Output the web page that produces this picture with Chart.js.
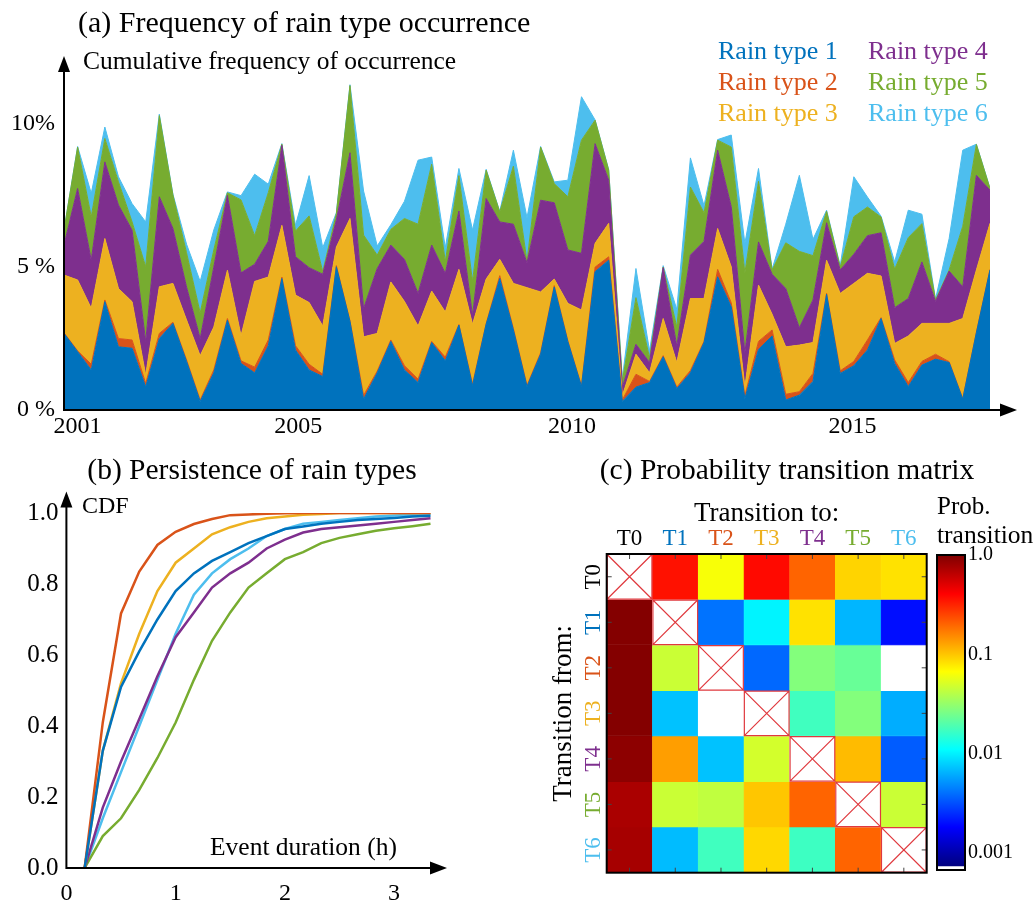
<!DOCTYPE html>
<html>
<head>
<meta charset="utf-8">
<title>Rain types</title>
<script src="https://cdn.jsdelivr.net/npm/chart.js@4.4.1/dist/chart.umd.min.js"></script>
<style>
  html, body { margin:0; padding:0; background:#fff; }
  #fig { position:relative; width:1036px; height:902px; overflow:hidden; background:#fff;
         font-family:"Liberation Serif","Times New Roman",serif; color:#000; }
  #fig canvas { position:absolute; }
  .txt { position:absolute; white-space:nowrap; line-height:1; transform:translateY(-50%); z-index:2; }
  .ctr { transform:translate(-50%,-50%); }
</style>
</head>
<body>
<div id="fig">
  <canvas id="freqChart" width="1036" height="460" style="left:0;top:0"></canvas>
  <canvas id="cdfChart" width="460" height="462" style="left:0;top:440px"></canvas>
  <canvas id="matrixChart" width="496" height="462" style="left:540px;top:440px"></canvas>
  <canvas id="barChart" width="106" height="345" style="left:930px;top:540px"></canvas>

  <div class="txt" style="left:78px;top:22px;font-size:30px">(a) Frequency of rain type occurrence</div>
  <div class="txt" style="left:83px;top:61px;font-size:25.5px">Cumulative frequency of occurrence</div>
  <div id="legendBox"></div>

  <div class="txt ctr" style="left:252px;top:470px;font-size:29.5px">(b) Persistence of rain types</div>
  <div class="txt" style="left:82px;top:505px;font-size:24px">CDF</div>
  <div class="txt" style="left:210px;top:847px;font-size:25.5px">Event duration (h)</div>

  <div class="txt ctr" style="left:787px;top:470px;font-size:29.5px">(c) Probability transition matrix</div>
  <div class="txt" style="left:937px;top:505px;font-size:25px">Prob.</div>
  <div class="txt" style="left:937px;top:535px;font-size:25.5px">transition</div>
</div>

<script>
// ---------- shared ----------
const serif = "'Liberation Serif', 'Times New Roman', serif";
const typeNames  = ['Rain type 1', 'Rain type 2', 'Rain type 3', 'Rain type 4', 'Rain type 5', 'Rain type 6'];
const typeColors = ['#0072BD', '#D95319', '#EDB120', '#7E2F8E', '#77AC30', '#4DBEEE'];

// ---------- (a) seasonal frequency of each rain type, % ----------
const rainType1 = [2.68,2.04,1.40,3.79,2.21,2.16,0.81,2.50,3.03,1.70, 0.30,1.30,3.14,1.63,1.30,2.25,4.60,2.10,1.40,1.17,
                   5.01,3.10,0.38,1.30,2.40,1.40,0.96,2.36,1.72,2.97, 0.85,3.00,4.60,2.80,0.82,1.95,4.30,2.39,0.82,4.84,
                   5.24,0.30,0.80,0.96,1.86,0.75,1.30,2.36,4.66,3.61, 0.40,2.12,2.59,0.35,0.52,1.00,4.05,1.28,1.55,2.10,
                   3.20,1.63,0.82,1.57,1.78,1.66,0.38,2.70,4.90];
const rainType2 = [0.02,0.03,0.20,0.06,0.29,0.29,0.12,0.18,0.04,0.05, 0.05,0.10,0.06,0.09,0.20,0.20,0.05,0.15,0.20,0.08,
                   0.04,0.02,0.13,0.06,0.05,0.15,0.12,0.04,0.13,0.02, 0.05,0.02,0.10,0.05,0.04,0.05,0.05,0.03,0.03,0.16,
                   0.12,0.05,0.45,0.04,0.04,0.05,0.08,0.04,0.26,0.14, 0.10,0.28,0.21,0.20,0.12,0.28,0.03,0.09,0.15,0.35,
                   0.03,0.12,0.14,0.13,0.17,0.03,0.02,0.02,0.02];
const rainType3 = [2.02,2.48,1.96,2.15,1.75,1.34,0.29,1.63,1.36,1.40, 1.55,1.50,1.69,0.88,3.00,2.20,1.81,1.77,2.16,1.69,
                   0.65,3.58,2.05,1.32,2.03,2.25,1.86,1.76,1.58,1.93, 2.10,1.56,0.57,1.58,3.42,2.13,0.23,1.31,2.65,0.83,
                   1.17,0.15,0.70,0.30,1.30,0.86,2.52,1.50,1.43,1.26, 0.30,1.97,0.55,1.66,1.63,1.08,1.16,2.71,2.73,2.33,
                   1.46,0.58,1.63,1.33,1.08,1.34,2.80,2.18,1.61];
const rainType4 = [1.05,3.20,1.68,2.68,2.92,2.50,1.17,3.15,1.92,1.15, 0.60,2.10,2.62,2.20,0.60,1.25,2.80,1.34,1.22,1.81,
                   0.95,2.30,0.99,2.27,1.29,1.47,1.14,1.61,1.35,2.04, 0.30,2.82,1.31,2.07,0.87,3.21,2.67,1.87,1.98,3.49,
                   1.51,0.30,0.35,0.36,1.78,0.58,1.52,2.00,2.74,2.10, 1.20,1.51,1.40,2.04,0.61,1.49,1.31,0.82,1.02,1.32,
                   1.51,1.25,1.31,2.15,0.77,1.83,1.11,3.31,1.16];
const rainType5 = [0.53,1.45,1.52,0.82,0.81,0.29,2.62,2.84,1.17,1.20, 0.90,0.60,0.09,2.55,1.00,1.70,0.04,0.90,1.81,0.09,
                   0.22,2.35,2.57,0.47,0.55,1.43,2.42,2.83,0.42,1.24, 1.20,0.99,0.35,2.03,0.05,1.86,0.67,1.86,3.96,0.82,
                   0.35,0.20,1.63,0.17,0.02,0.66,2.38,1.00,0.35,2.09, 2.80,2.12,0.15,1.60,2.67,1.55,0.40,0.10,1.31,1.00,
                   0.55,1.35,2.13,1.34,0.05,0.04,2.12,1.08,0.06];
const rainType6 = [0.00,0.02,0.82,0.40,0.18,0.64,1.57,0.05,0.03,0.30, 1.10,0.70,0.03,0.15,2.15,0.30,0.02,0.20,1.41,0.84,
                   0.03,0.03,1.54,0.32,0.16,0.60,2.24,0.25,0.48,0.25, 1.80,0.03,0.02,0.56,1.53,0.02,0.06,0.58,1.52,0.01,
                   0.02,0.10,1.02,0.24,0.05,0.62,1.02,0.25,0.02,0.42, 1.03,0.45,0.03,0.65,2.66,0.57,0.04,0.05,1.40,0.35,
                   0.03,0.25,0.96,0.33,0.03,1.10,2.66,0.01,0.01];
const yearLabels  = ['2001', '2005', '2010', '2015'];
const yearTickPos = [1, 17.2, 37.3, 57.9];      // season index under each year label
const freqTicks   = [0, 5, 10];
const freqLabels  = ['0 %', '5 %', '10%'];

// ---------- (b) CDF of event duration ----------
const durationH = [0.167,0.333,0.5,0.667,0.833,1.0,1.167,1.333,1.5,1.667,1.833,2.0,2.167,2.333,2.5,2.667,2.833,3.0,3.167,3.333];
const cdfType1 = [0,0.33,0.51,0.61,0.70,0.78,0.83,0.865,0.89,0.915,0.935,0.955,0.962,0.97,0.975,0.98,0.983,0.986,0.99,0.992];
const cdfType2 = [0,0.41,0.717,0.835,0.91,0.947,0.969,0.983,0.994,0.996,0.998,0.999,1,1,1,1,1,1,1,1];
const cdfType3 = [0,0.33,0.52,0.66,0.78,0.86,0.90,0.94,0.96,0.975,0.985,0.99,0.995,0.997,1,1,1,1,1,1];
const cdfType4 = [0,0.17,0.30,0.42,0.54,0.65,0.72,0.79,0.83,0.86,0.90,0.925,0.945,0.955,0.96,0.965,0.97,0.975,0.98,0.985];
const cdfType5 = [0,0.09,0.14,0.22,0.31,0.41,0.53,0.64,0.72,0.79,0.83,0.87,0.89,0.915,0.93,0.94,0.95,0.957,0.963,0.97];
const cdfType6 = [0,0.14,0.27,0.40,0.53,0.66,0.77,0.83,0.87,0.90,0.935,0.955,0.97,0.975,0.98,0.985,0.99,0.993,0.995,0.997];
const hourTicks  = [0, 1, 2, 3];
const hourLabels = ['0', '1', '2', '3'];
const cdfTicks   = [0, 0.2, 0.4, 0.6, 0.8, 1.0];
const cdfLabels  = ['0.0', '0.2', '0.4', '0.6', '0.8', '1.0'];

// ---------- (c) transition probabilities (row: from, column: to); null = same state ----------
const stateNames  = ['T0', 'T1', 'T2', 'T3', 'T4', 'T5', 'T6'];
const stateColors = ['#000000', '#0072BD', '#D95319', '#EDB120', '#7E2F8E', '#77AC30', '#4DBEEE'];
const fromT0 = [null, 0.36, 0.064, 0.38, 0.20, 0.091, 0.082];
const fromT1 = [0.97, null, 0.0041, 0.0102, 0.082, 0.0066, 0.0020];
const fromT2 = [0.97, 0.046, null, 0.0038, 0.028, 0.023, 0];
const fromT3 = [0.97, 0.0072, 0, null, 0.0174, 0.028, 0.0062];
const fromT4 = [0.91, 0.133, 0.0072, 0.049, null, 0.108, 0.0035];
const fromT5 = [0.74, 0.046, 0.043, 0.10, 0.20, null, 0.046];
const fromT6 = [0.76, 0.0069, 0.0174, 0.088, 0.017, 0.20, null];
const cbTicks  = [1, 0.1, 0.01, 0.001];
const cbLabels = ['1.0', '0.1', '0.01', '0.001'];
const cbLow = Math.pow(10, -3.13), cbMin = Math.pow(10, -3.17), cbMax = 1;

Chart.defaults.font.family = serif;
Chart.defaults.color = '#000';

// ---------- helpers ----------
function drawArrowAxes(ctx, x0, y0, yTop, xRight) {
  ctx.save();
  ctx.strokeStyle = '#000'; ctx.fillStyle = '#000'; ctx.lineWidth = 2;
  ctx.beginPath();
  ctx.moveTo(x0, y0 + 1); ctx.lineTo(x0, yTop + 12);
  ctx.moveTo(x0 - 1, y0); ctx.lineTo(xRight - 14, y0);
  ctx.stroke();
  ctx.beginPath();
  ctx.moveTo(x0, yTop); ctx.lineTo(x0 - 6, yTop + 16); ctx.lineTo(x0 + 6, yTop + 16); ctx.closePath();
  ctx.moveTo(xRight, y0); ctx.lineTo(xRight - 17, y0 - 6.5); ctx.lineTo(xRight - 17, y0 + 6.5); ctx.closePath();
  ctx.fill();
  ctx.restore();
}
function clamp01(v) { return Math.max(0, Math.min(1, v)); }
function jet(t) {
  const r = clamp01(1.5 - Math.abs(4 * t - 3));
  const g = clamp01(1.5 - Math.abs(4 * t - 2));
  const b = clamp01(1.5 - Math.abs(4 * t - 1));
  return `rgb(${Math.round(r * 255)},${Math.round(g * 255)},${Math.round(b * 255)})`;
}
const logLo = Math.log10(cbLow), logHi = Math.log10(cbMax);
function cellColor(p) {
  if (p === null || p === 0) return '#ffffff';
  return jet(clamp01((Math.log10(p) - logLo) / (logHi - logLo)));
}
const noGrid = { display: false, drawTicks: false };

// ---------- legend text for (a) ----------
(function () {
  const box = document.getElementById('legendBox');
  const colLeft = [718, 868], rowTop = [51, 82, 113];
  typeNames.forEach((name, k) => {
    const d = document.createElement('div');
    d.className = 'txt';
    d.textContent = name;
    d.style.left = colLeft[Math.floor(k / 3)] + 'px';
    d.style.top = rowTop[k % 3] + 'px';
    d.style.fontSize = '26px';
    d.style.color = typeColors[k];
    box.appendChild(d);
  });
})();

// ---------- (a) stacked area ----------
const freqSeries = [rainType1, rainType2, rainType3, rainType4, rainType5, rainType6];
const seasonIdx = rainType1.map((_, i) => i);
new Chart(document.getElementById('freqChart'), {
  type: 'line',
  data: {
    datasets: freqSeries.map((s, k) => ({
      label: typeNames[k],
      data: s.map((v, i) => ({ x: seasonIdx[i], y: v })),
      backgroundColor: typeColors[k],
      borderColor: typeColors[k],
      borderWidth: 1,
      fill: k === 0 ? 'origin' : '-1',
      pointRadius: 0,
      tension: 0
    }))
  },
  options: {
    responsive: false, animation: false, devicePixelRatio: 1,
    layout: { padding: { left: 6, top: 67, right: 46, bottom: 0 } },
    plugins: { legend: { display: false }, tooltip: { enabled: false } },
    scales: {
      x: {
        type: 'linear', min: 0, max: seasonIdx[seasonIdx.length - 1],
        grid: noGrid, border: { display: false },
        afterBuildTicks: s => { s.ticks = yearTickPos.map(v => ({ value: v })); },
        ticks: { callback: (v, i) => yearLabels[i], autoSkip: false, maxRotation: 0, padding: 2,
                 font: { size: 24 }, color: '#000' },
        afterFit: s => { s.height = 50; }
      },
      y: {
        stacked: true, min: 0, max: 12,
        grid: noGrid, border: { display: false },
        afterBuildTicks: s => { s.ticks = freqTicks.map(v => ({ value: v })); },
        ticks: { callback: (v, i) => freqLabels[i], padding: 9, font: { size: 24 }, color: '#000' },
        afterFit: s => { s.width = 58; }
      }
    }
  },
  plugins: [{
    id: 'arrowAxesA',
    afterDraw(chart) {
      const a = chart.chartArea;
      drawArrowAxes(chart.ctx, a.left, a.bottom, 56, 1017);
    }
  }]
});

// ---------- (b) CDF lines ----------
const cdfSeries = [cdfType1, cdfType2, cdfType3, cdfType4, cdfType5, cdfType6];
new Chart(document.getElementById('cdfChart'), {
  type: 'line',
  data: {
    datasets: cdfSeries.map((s, k) => ({
      label: typeNames[k],
      data: s.map((v, i) => ({ x: durationH[i], y: v })),
      borderColor: typeColors[k],
      backgroundColor: typeColors[k],
      borderWidth: 2.5,
      pointRadius: 0,
      tension: 0,
      fill: false
    }))
  },
  options: {
    responsive: false, animation: false, devicePixelRatio: 1,
    layout: { padding: { left: 8, top: 73, right: 20, bottom: 0 } },
    plugins: { legend: { display: false }, tooltip: { enabled: false } },
    scales: {
      x: {
        type: 'linear', min: 0, max: 3.42,
        grid: noGrid, border: { display: false },
        afterBuildTicks: s => { s.ticks = hourTicks.map(v => ({ value: v })); },
        ticks: { callback: (v, i) => hourLabels[i], autoSkip: false, maxRotation: 0, padding: 11,
                 font: { size: 24 }, color: '#000' },
        afterFit: s => { s.height = 34; }
      },
      y: {
        min: 0, max: 1,
        grid: noGrid, border: { display: false },
        afterBuildTicks: s => { s.ticks = cdfTicks.map(v => ({ value: v })); },
        ticks: { callback: (v, i) => cdfLabels[i], padding: 8, font: { size: 25 }, color: '#000' },
        afterFit: s => { s.width = 58.4; }
      }
    }
  },
  plugins: [{
    id: 'arrowAxesB',
    afterDraw(chart) {
      const a = chart.chartArea;
      drawArrowAxes(chart.ctx, a.left, a.bottom, 51.5, 447);
    }
  }]
});

// ---------- (c) transition matrix ----------
const fromRows = [fromT0, fromT1, fromT2, fromT3, fromT4, fromT5, fromT6];
new Chart(document.getElementById('matrixChart'), {
  type: 'bar',
  data: {
    labels: stateNames,
    datasets: fromRows.map((row, r) => ({
      label: stateNames[r],
      data: row.map(() => 1),
      backgroundColor: row.map(cellColor),
      borderColor: row.map(cellColor),
      borderWidth: 0.6,
      borderSkipped: false,
      categoryPercentage: 1,
      barPercentage: 1
    }))
  },
  options: {
    responsive: false, animation: false, devicePixelRatio: 1,
    layout: { padding: { left: 8, top: 55, right: 109.3, bottom: 29.3 } },
    plugins: { legend: { display: false }, tooltip: { enabled: false } },
    scales: {
      x: {
        position: 'top', stacked: true,
        grid: noGrid, border: { display: false },
        ticks: { display: false },
        title: { display: true, text: 'Transition to:', font: { size: 27 }, color: '#000', padding: { top: 3, bottom: 0 } },
        afterFit: s => { s.height = 59; }
      },
      y: {
        stacked: true, reverse: true, min: 0, max: 7,
        grid: noGrid, border: { display: false },
        ticks: { display: false },
        title: { display: true, text: 'Transition from:', font: { size: 27 }, color: '#000', padding: { top: 0, bottom: 0 } },
        afterFit: s => { s.width = 58.7; }
      }
    }
  },
  plugins: [{
    id: 'matrixDecor',
    afterDatasetsDraw(chart) {
      const { ctx, chartArea: a, scales: { x, y } } = chart;
      const cw = (a.right - a.left) / stateNames.length;
      ctx.save();
      // same-state cells: red box with a cross
      ctx.strokeStyle = '#e0393e'; ctx.lineWidth = 1.2;
      fromRows.forEach((row, r) => row.forEach((p, c) => {
        if (p !== null) return;
        const x0 = x.getPixelForValue(c) - cw / 2, x1 = x0 + cw;
        const y0 = y.getPixelForValue(r), y1 = y.getPixelForValue(r + 1);
        ctx.beginPath();
        ctx.rect(x0 + 0.5, y0 + 0.5, x1 - x0 - 1, y1 - y0 - 1);
        ctx.moveTo(x0, y0); ctx.lineTo(x1, y1);
        ctx.moveTo(x1, y0); ctx.lineTo(x0, y1);
        ctx.stroke();
      }));
      // small inward ticks at cell centres
      ctx.strokeStyle = '#444'; ctx.lineWidth = 1;
      ctx.beginPath();
      stateNames.forEach((_, i) => {
        const px = x.getPixelForValue(i), py = y.getPixelForValue(i + 0.5);
        ctx.moveTo(px, a.top); ctx.lineTo(px, a.top + 5);
        ctx.moveTo(px, a.bottom); ctx.lineTo(px, a.bottom - 5);
        ctx.moveTo(a.left, py); ctx.lineTo(a.left + 5, py);
        ctx.moveTo(a.right, py); ctx.lineTo(a.right - 5, py);
      });
      ctx.stroke();
      // frame
      ctx.strokeStyle = '#000'; ctx.lineWidth = 2;
      ctx.strokeRect(a.left, a.top, a.right - a.left, a.bottom - a.top);
      // state labels: columns on top, rows rotated on the left
      ctx.font = `23px ${serif}`;
      ctx.textAlign = 'center'; ctx.textBaseline = 'middle';
      stateNames.forEach((name, i) => {
        ctx.fillStyle = stateColors[i];
        ctx.fillText(name, x.getPixelForValue(i), a.top - 15);
        ctx.save();
        ctx.translate(a.left - 14, y.getPixelForValue(i + 0.5));
        ctx.rotate(-Math.PI / 2);
        ctx.fillText(name, 0, 1);
        ctx.restore();
      });
      ctx.restore();
    }
  }]
});

// ---------- colour bar ----------
new Chart(document.getElementById('barChart'), {
  type: 'bar',
  data: {
    labels: [''],
    datasets: [{
      data: [[cbLow, cbMax]],
      borderWidth: 0,
      categoryPercentage: 1,
      barPercentage: 1,
      backgroundColor: c => {
        const ch = c.chart;
        if (!ch.chartArea) return '#fff';
        const ys = ch.scales.y;
        const g = ch.ctx.createLinearGradient(0, ys.getPixelForValue(cbLow), 0, ys.getPixelForValue(cbMax));
        for (let k = 0; k <= 32; k++) g.addColorStop(k / 32, jet(k / 32));
        return g;
      }
    }]
  },
  options: {
    responsive: false, animation: false, devicePixelRatio: 1,
    layout: { padding: { left: 7, top: 15, right: 0, bottom: 12 } },
    plugins: { legend: { display: false }, tooltip: { enabled: false } },
    scales: {
      x: { display: false },
      y: {
        type: 'logarithmic', position: 'right', min: cbMin, max: cbMax,
        grid: noGrid, border: { display: false },
        afterBuildTicks: s => { s.ticks = cbTicks.map(v => ({ value: v })); },
        ticks: { callback: (v, i) => cbLabels[i], padding: 3, font: { size: 20 }, color: '#000' },
        afterFit: s => { s.width = 71; }
      }
    }
  },
  plugins: [{
    id: 'cbFrame',
    afterDraw(chart) {
      const { ctx, chartArea: a } = chart;
      ctx.save();
      ctx.strokeStyle = '#000'; ctx.lineWidth = 2;
      ctx.strokeRect(a.left, a.top, a.right - a.left, a.bottom - a.top);
      ctx.restore();
    }
  }]
});
</script>
</body>
</html>
